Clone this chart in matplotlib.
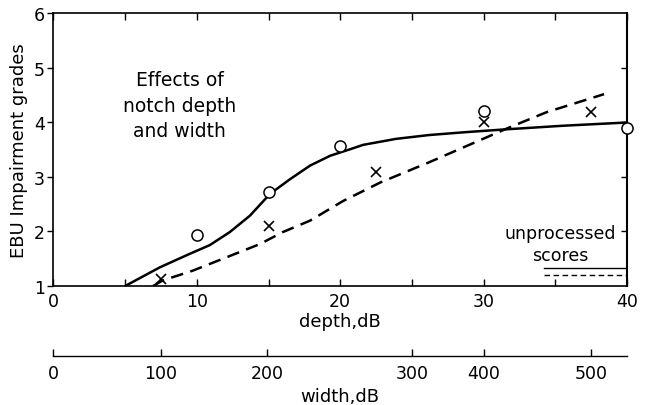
import matplotlib
matplotlib.use("Agg")
import matplotlib.pyplot as plt

# ---- data ----
depth_pts = [10, 15, 20, 30, 40]
depth_scores = [1.94, 2.72, 3.57, 4.21, 3.90]

width_pts_x = [7.5, 15, 22.5, 30, 37.5]
width_scores = [1.13, 2.10, 3.09, 4.00, 4.19]

depth_curve_x = [5.0, 7.4, 9.5, 10.9, 12.3, 13.7, 15.1, 16.5, 17.9, 19.3, 20.7,
                 21.6, 23.9, 26.2, 28.6, 31.3, 35.5, 40.0]
depth_curve_y = [1.0, 1.34, 1.59, 1.75, 1.99, 2.29, 2.69, 2.96, 3.21, 3.39, 3.51,
                 3.59, 3.70, 3.77, 3.82, 3.87, 3.94, 4.00]

width_curve_x = [6.95, 7.6, 9.7, 12.1, 14.4, 16.0, 17.9, 20.2, 22.8, 26.2, 29.7,
                 31.8, 34.4, 38.4]
width_curve_y = [1.0, 1.10, 1.28, 1.53, 1.77, 1.99, 2.20, 2.56, 2.90, 3.27, 3.67,
                 3.91, 4.19, 4.52]

unproc_x = [34.2, 40]
unproc_depth = 1.33
unproc_width = 1.20

depth_ticks = [0, 10, 20, 30, 40]
width_tick_labels = [0, 100, 200, 300, 400, 500]
width_tick_pos = [0, 7.5, 14.9, 25.0, 30.0, 37.5]

plt.rcParams['font.family'] = ['DejaVu Sans']

fig = plt.figure(figsize=(6.49, 4.06), dpi=100)
ax = fig.add_axes([0.0824, 0.2931, 0.8837, 0.6712])

ax.plot(depth_curve_x, depth_curve_y, color='black', lw=1.8, solid_capstyle='round',
        solid_joinstyle='round')
ax.plot(width_curve_x, width_curve_y, color='black', lw=1.8, dashes=(5, 3))
ax.plot(depth_pts, depth_scores, linestyle='none', marker='o', ms=8, mfc='white',
        mec='black', mew=1.1, clip_on=False, zorder=5)
ax.plot(width_pts_x, width_scores, linestyle='none', marker='x', ms=6.5,
        color='black', mew=1.2, zorder=5)

ax.plot(unproc_x, [unproc_depth] * 2, color='black', lw=1.0)
ax.plot(unproc_x, [unproc_width] * 2, color='black', lw=1.0, dashes=(4, 2.5))
ax.text(39.2, 1.77, 'unprocessed\nscores', ha='right', va='center', fontsize=12.5,
        linespacing=1.25, multialignment='center')

ax.text(8.8, 4.32, 'Effects of\nnotch depth\nand width', ha='center', va='center',
        fontsize=13.5, linespacing=1.45)

ax.set_xlim(0, 40)
ax.set_ylim(1, 6)
ax.set_xticks(depth_ticks)
ax.set_xticks(range(0, 41, 5), minor=True)
ax.set_yticks([1, 2, 3, 4, 5, 6])
ax.tick_params(axis='x', which='both', direction='in', top=True, length=5, width=1,
               labelsize=12.5, pad=4)
ax.tick_params(axis='y', direction='out', length=4, width=1, labelsize=12.5, pad=2)
for s in ax.spines.values():
    s.set_linewidth(1.2)
ax.set_xlabel('depth,dB', fontsize=13, labelpad=2)
ax.set_ylabel('EBU Impairment grades', fontsize=13, labelpad=4)

rax = ax.secondary_yaxis('right')
rax.set_yticks([2, 3, 4, 5])
rax.tick_params(direction='in', length=4, width=1, labelright=False)
rax.spines['right'].set_linewidth(1.5)

wax = ax.secondary_xaxis(-0.257)
wax.set_xticks(width_tick_pos)
wax.set_xticklabels([str(v) for v in width_tick_labels])
wax.tick_params(direction='in', length=5, width=1, labelsize=12.5, pad=6)
wax.spines['bottom'].set_linewidth(1.0)
wax.set_xlabel('width,dB', fontsize=13, labelpad=3)

fig.savefig('out.png', dpi=100)
